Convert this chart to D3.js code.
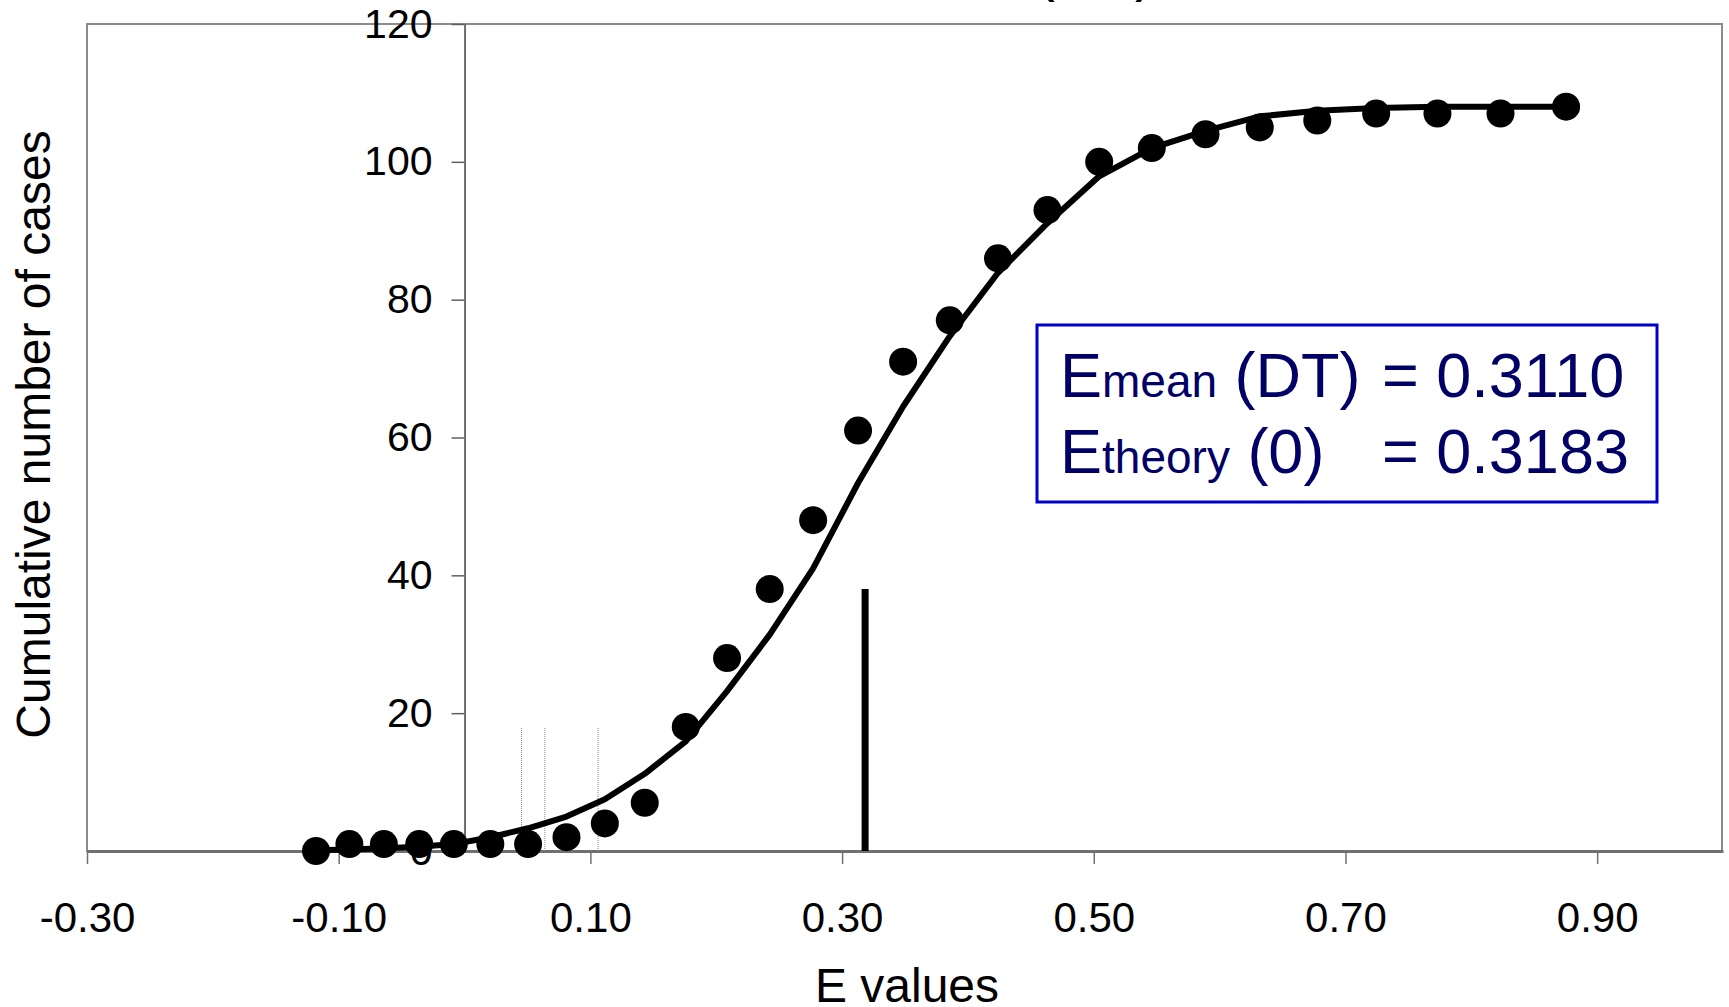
<!DOCTYPE html>
<html>
<head>
<meta charset="utf-8">
<script src="https://cdn.jsdelivr.net/npm/d3@7"></script>
<style>
  html, body { margin: 0; padding: 0; background: #fff; }
  svg { display: block; font-family: "Liberation Sans", Arial, sans-serif; }
</style>
</head>
<body>
<svg id="chart"></svg>
<script>
// observed E values and cumulative counts
const eValues = [-0.118, -0.0915, -0.0641, -0.036, -0.0085, 0.0205, 0.0505, 0.081, 0.1115, 0.1432,
  0.1758, 0.2086, 0.2425, 0.277, 0.3127, 0.3485, 0.3856, 0.4239, 0.4632, 0.5043,
  0.5461, 0.5888, 0.6319, 0.6776, 0.7244, 0.7731, 0.8232, 0.8753];
const cumCases = [0, 1, 1, 1, 1, 1, 1, 2, 4, 7, 18, 28, 38, 48, 61, 71, 77, 86, 93, 100,
  102, 104, 105, 106, 107, 107, 107, 108];
// fitted curve, read at the same E values
const fitCases = [0.1, 0.2, 0.4, 0.6, 1.0, 2.0, 3.3, 5.0, 7.5, 11.2, 15.9, 23.2, 31.4, 41.0,
  53.4, 64.5, 74.7, 83.9, 91.1, 97.9, 102.0, 104.5, 106.6, 107.4, 107.8, 108, 108, 108];

const xTicks = [-0.30, -0.10, 0.10, 0.30, 0.50, 0.70, 0.90];
const yTicks = [0, 20, 40, 60, 80, 100, 120];
const markerE = [0.0453, 0.0638, 0.1061];   // thin dotted markers
const markerHeight = 18;
const theoryE = 0.3183;
const theoryHeight = 38;

const width = 1729, height = 1007;
const plotL = 87, plotR = 1723, plotT = 24, plotB = 851;

const svg = d3.select("#chart")
    .attr("width", width)
    .attr("height", height);

const x = d3.scaleLinear().domain([-0.3, 1.0]).range([plotL, plotR]);
const y = d3.scaleLinear().domain([0, 120]).range([plotB, plotT]);

// partial title at the very top (mostly cut off)
svg.append("text")
    .attr("x", 1095).attr("y", -10)
    .attr("text-anchor", "middle")
    .attr("font-size", 60)
    .text("(DT)");

// plot frame
svg.append("rect")
    .attr("x", plotL).attr("y", plotT)
    .attr("width", plotR - plotL - 1).attr("height", plotB - plotT)
    .attr("fill", "none")
    .attr("stroke", "#8c8c8c")
    .attr("stroke-width", 2);

// x axis
const xAxis = svg.append("g")
    .attr("transform", `translate(0,${plotB})`)
    .call(d3.axisBottom(x).tickValues(xTicks).tickFormat(d => d.toFixed(2))
      .tickSize(13).tickPadding(38).tickSizeOuter(0));
xAxis.select(".domain").attr("stroke", "#707070").attr("stroke-width", 3);
xAxis.selectAll(".tick line").attr("stroke", "#707070").attr("stroke-width", 1.5);
xAxis.selectAll(".tick text")
    .attr("font-size", 42).attr("fill", "#000")
    .attr("font-family", "Liberation Sans, Arial, sans-serif");

// y axis crossing at E = 0
const yAxis = svg.append("g")
    .attr("transform", `translate(${x(0)},0)`)
    .call(d3.axisLeft(y).tickValues(yTicks).tickSize(13).tickPadding(19).tickSizeOuter(0));
yAxis.select(".domain").attr("stroke", "#404040").attr("stroke-width", 1.5);
yAxis.selectAll(".tick line").attr("stroke", "#606060").attr("stroke-width", 1.5);
yAxis.selectAll(".tick text")
    .attr("font-size", 41).attr("fill", "#000")
    .attr("font-family", "Liberation Sans, Arial, sans-serif");

// axis titles
svg.append("text")
    .attr("x", (plotL + plotR) / 2 + 2).attr("y", 1002)
    .attr("text-anchor", "middle")
    .attr("font-size", 48)
    .text("E values");

svg.append("text")
    .attr("transform", `translate(50,${(plotT + plotB) / 2 - 3}) rotate(-90)`)
    .attr("text-anchor", "middle")
    .attr("font-size", 48)
    .text("Cumulative number of cases");

// thin dotted markers
svg.append("g").selectAll("line")
    .data(markerE)
    .join("line")
    .attr("x1", d => x(d)).attr("x2", d => x(d))
    .attr("y1", y(0)).attr("y2", y(markerHeight))
    .attr("stroke", "#888")
    .attr("stroke-width", 1)
    .attr("stroke-dasharray", "1,1");

// theoretical E bar
svg.append("line")
    .attr("x1", x(theoryE)).attr("x2", x(theoryE))
    .attr("y1", y(0)).attr("y2", y(theoryHeight))
    .attr("stroke", "#000")
    .attr("stroke-width", 7);

// fitted curve
const line = d3.line()
    .x((d, i) => x(eValues[i]))
    .y(d => y(d));

svg.append("path")
    .datum(fitCases)
    .attr("d", line)
    .attr("fill", "none")
    .attr("stroke", "#000")
    .attr("stroke-width", 6)
    .attr("stroke-linejoin", "round");

// observed points
svg.append("g").selectAll("circle")
    .data(cumCases)
    .join("circle")
    .attr("cx", (d, i) => x(eValues[i]))
    .attr("cy", d => y(d))
    .attr("r", 14)
    .attr("fill", "#000");

// annotation box
const box = svg.append("g").attr("transform", "translate(1037,325)");
box.append("rect")
    .attr("width", 620).attr("height", 177)
    .attr("fill", "#fff")
    .attr("stroke", "#0000cc")
    .attr("stroke-width", 3);

const navy = "#000066";
const rows = [
  { sub: "mean", arg: " (DT)", val: "= 0.3110", base: 72 },
  { sub: "theory", arg: " (0)", val: "= 0.3183", base: 148 }
];
rows.forEach(r => {
  const t = box.append("text")
      .attr("x", 23).attr("y", r.base)
      .attr("fill", navy)
      .attr("font-size", 63);
  t.append("tspan").text("E");
  t.append("tspan").attr("font-size", 46).text(r.sub);
  t.append("tspan").text(r.arg);
  box.append("text")
      .attr("x", 345).attr("y", r.base)
      .attr("fill", navy)
      .attr("font-size", 63)
      .text(r.val);
});
</script>
</body>
</html>
